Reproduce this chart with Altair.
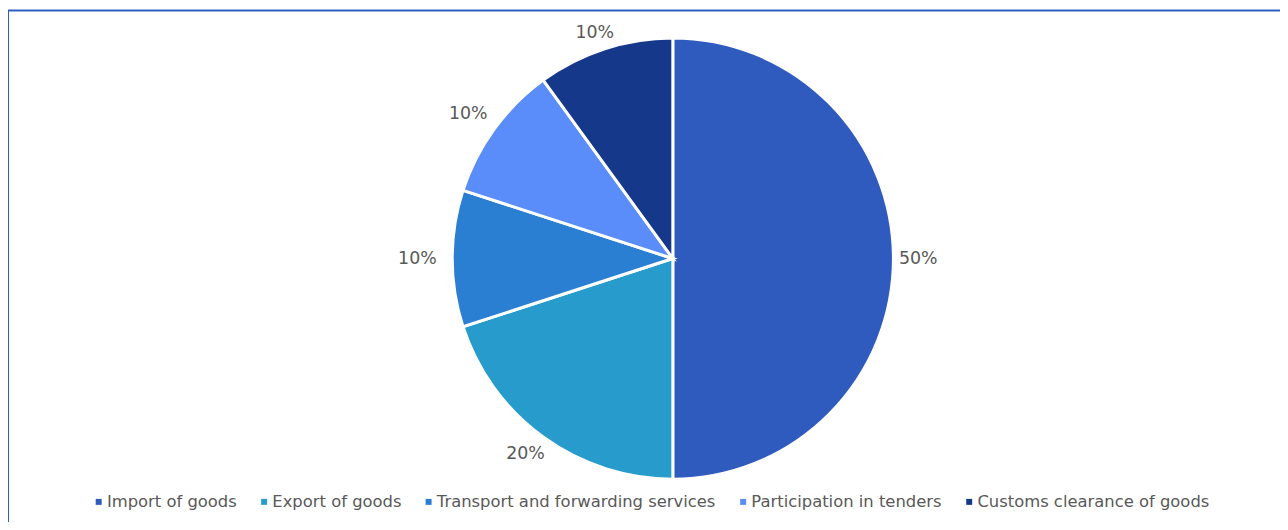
import altair as alt
import pandas as pd

categories = [
    "Import of goods",
    "Export of goods",
    "Transport and forwarding services",
    "Participation in tenders",
    "Customs clearance of goods",
]
shares = [50, 20, 10, 10, 10]
labels = ["50%", "20%", "10%", "10%", "10%"]
colors = ["#2E5BBD", "#279BCB", "#2A7FD3", "#5A8DFA", "#15388A"]

df = pd.DataFrame({
    "category": categories,
    "share": shares,
    "label": labels,
    "order": list(range(len(categories))),
})

W, H = 1280, 514
CX, CY = 669, 250.5

pie = alt.Chart(df).mark_arc(outerRadius=222, stroke="white", strokeWidth=3).encode(
    theta=alt.Theta("share:Q", stack=True),
    order=alt.Order("order:Q"),
    color=alt.Color(
        "category:N",
        title=None,
        scale=alt.Scale(domain=categories, range=colors),
        legend=alt.Legend(
            orient="none",
            legendX=83,
            legendY=487,
            direction="horizontal",
            symbolType="square",
            symbolSize=36,
            symbolStrokeWidth=0,
            labelFont="DejaVu Sans",
            labelFontSize=16.5,
            labelColor="#595959",
            labelOffset=0,
            labelLimit=500,
            columnPadding=18.5,
            padding=0,
        ),
    ),
    x=alt.value(CX),
    y=alt.value(CY),
)

# labels sit at each slice's mid angle; distance grows with the horizontal extent of the text box
text = alt.Chart(df).transform_joinaggregate(
    total="sum(share)"
).transform_window(
    cum="sum(share)", sort=[alt.SortField("order")]
).transform_calculate(
    midval="datum.cum - datum.share / 2",
    lr="232 + 20 * abs(sin(datum.midval / datum.total * 2 * PI))",
).mark_text(
    fontSize=17.5, font="DejaVu Sans", color="#595959",
    align="center", baseline="middle", dx=-5,
).encode(
    theta=alt.Theta("midval:Q", stack=False),
    text="label:N",
    radius=alt.Radius("lr:Q", scale=alt.Scale(domain=[0, 300], range=[0, 300])),
    x=alt.value(CX),
    y=alt.value(CY),
)

border = alt.Chart(alt.Data(values=[{"a": 1}])).mark_rect(
    fillOpacity=0, stroke="#2F5EC2", strokeWidth=2
).encode(
    x=alt.value(0), y=alt.value(1), x2=alt.value(1500), y2=alt.value(900)
)

chart = alt.layer(border, pie, text).properties(
    width=W, height=H, padding=0,
    autosize=alt.AutoSizeParams(type="none"),
).configure_view(strokeOpacity=0)

chart.save("out.html", embed_options={"renderer": "svg", "actions": False})
